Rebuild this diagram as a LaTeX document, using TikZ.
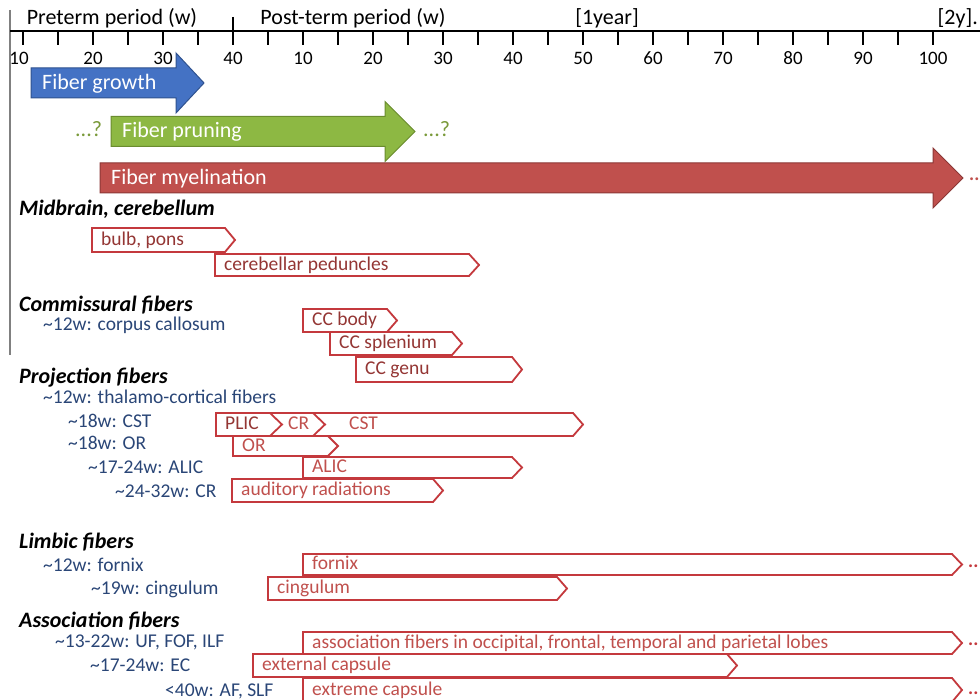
\documentclass[tikz,border=0pt]{standalone}
\usepackage{fontspec}
\setmainfont{Carlito}
\usetikzlibrary{calc}
\definecolor{growthfill}{HTML}{4472C4}
\definecolor{growthedge}{HTML}{2F528F}
\definecolor{pruningfill}{HTML}{8DB843}
\definecolor{pruningedge}{HTML}{6A8C2F}
\definecolor{myelinfill}{HTML}{C0504D}
\definecolor{myelinedge}{HTML}{8C3836}
\definecolor{tractline}{HTML}{C4393D}
\definecolor{tractdark}{HTML}{943634}
\definecolor{tractred}{HTML}{C0504D}
\definecolor{onsetblue}{HTML}{2A4677}
\definecolor{queryolive}{HTML}{7A9A3A}

\newcommand{\phasearrow}[7]{%
  \path[phase, fill=#2fill, draw=#2edge] (#3,{#6-15}) -- (#4,{#6-15}) -- (#4,{#6-30}) -- (#5,#6)
    -- (#4,{#6+30}) -- (#4,{#6+15}) -- (#3,{#6+15}) -- cycle;
  \node[phasetext] (#1) at ({#3+11},{#6+4}) {#7};
}
\newcommand{\tract}[7][tractred]{%
  \draw[tractbox] (#3,#5) -- (#4,#5) -- ({#4+10},{(#5+#6)/2}) -- (#4,#6) -- (#3,#6) -- cycle;
  \node[tracttext, text=#1] (#2) at ({#3+9},{(#5+#6)/2+3}) {#7};
}

\begin{document}
\begin{tikzpicture}[x=1pt,y=-1pt,
    tick/.style={line width=1.6pt},
    axisnum/.style={font=\fontsize{19}{22}\selectfont},
    axistitle/.style={font=\fontsize{22}{26}\selectfont},
    phase/.style={line width=1pt},
    phasetext/.style={anchor=mid west,text=white,inner sep=0pt,font=\fontsize{22}{26}\selectfont},
    tractbox/.style={draw=tractline,line width=1.8pt,line join=miter},
    tracttext/.style={anchor=mid west,inner sep=0pt,font=\fontsize{19.5}{23}\selectfont},
    group/.style={anchor=mid west,inner sep=0pt,font=\fontsize{22}{26}\selectfont\bfseries\itshape},
    onset/.style={anchor=mid west,inner sep=0pt,text=onsetblue,font=\fontsize{19.5}{23}\selectfont},
    query/.style={anchor=mid west,inner sep=0pt,text=queryolive,font=\fontsize{22}{26}\selectfont},
    more/.style={anchor=mid west,inner sep=0pt,font=\fontsize{19}{22}\selectfont\bfseries}]
  \useasboundingbox (0,0) rectangle (980,700);
  \fill[white] (0,0) rectangle (980,700);
  \clip (0,0) rectangle (980,700);

  \draw[line width=2pt,gray] (10,10) -- (10,355);
  \draw[line width=2pt] (10,31) -- (980,31);
  \foreach \w in {10,15,...,35}
    \draw[tick] ({7*\w-47},31) -- ++(0,14);
  \draw[tick] (233,17) -- (233,45);
  \foreach \w in {5,10,...,100}
    \draw[tick] ({233+7*\w},31) -- ++(0,14);
  \node[axisnum] (pre10) at (19,58) {10};
  \foreach \w in {20,30,40}
    \node[axisnum] (pre\w) at ({7*\w-47},58) {\w};
  \foreach \w in {10,20,...,100}
    \node[axisnum] (post\w) at ({233+7*\w},58) {\w};
  \node[axistitle] (preterm) at (112,18) {Preterm period (w)};
  \node[axistitle] (postterm) at (353,18) {Post-term period (w)};
  \node[axistitle] (oneyear) at (607,18) {[1year]};
  \node[axistitle, anchor=east, inner sep=0pt] (twoyear) at (978,18) {[2y].};

  \phasearrow{growth}{growth}{31}{176}{204}{83}{Fiber growth}
  \phasearrow{pruning}{pruning}{111}{385}{415}{131.5}{Fiber pruning}
  \phasearrow{myelin}{myelin}{100}{933}{963}{178}{Fiber myelination}
  \node[query] (qleft) at (75,134) {...?};
  \node[query] (qright) at (423,134) {...?};
  \node[more, text=myelinfill] (myelinmore) at (969,178) {..};

  \node[group] (midbrain) at (19,213) {Midbrain, cerebellum};
  \tract[tractdark]{bulb}{92}{225}{228}{252}{bulb, pons}
  \tract[tractdark]{peduncle}{215}{469}{254}{276}{cerebellar peduncles}

  \node[group] (commissural) at (19,309) {Commissural fibers};
  \node[onset] (ccon) at (43,328) {\textasciitilde12w: corpus callosum};
  \tract[tractdark]{ccbody}{303}{387}{309}{332}{CC body}
  \tract[tractdark]{ccsplen}{330}{452}{332}{355}{CC splenium}
  \tract[tractdark]{ccgenu}{356}{512}{357}{382}{CC genu}

  \node[group] (projection) at (19,381) {Projection fibers};
  \node[onset] (thalon) at (43,401) {\textasciitilde12w: thalamo-cortical fibers};
  \node[onset] (cston) at (68,425) {\textasciitilde18w: CST};
  \node[onset] (oron) at (68,447) {\textasciitilde18w: OR};
  \node[onset] (alicon) at (88,471) {\textasciitilde17-24w: ALIC};
  \node[onset] (cron) at (115,495) {\textasciitilde24-32w: CR};
  \tract[tractdark]{plic}{216}{573}{413}{436}{PLIC}
  \draw[tractbox] (270,413) -- (282,424.5) -- (270,436);
  \draw[tractbox] (313,413) -- (325,424.5) -- (313,436);
  \node[tracttext, text=tractred] (cr) at (288,427.5) {CR};
  \node[tracttext, text=tractred] (cst) at (349,427.5) {CST};
  \tract{or}{233}{328}{436}{456}{OR}
  \tract{alic}{303}{512}{457}{478}{ALIC}
  \tract{auditory}{232}{433}{479}{502}{auditory radiations}

  \node[group] (limbic) at (19,546) {Limbic fibers};
  \node[onset] (fornon) at (43,569) {\textasciitilde12w: fornix};
  \node[onset] (cingon) at (91,592) {\textasciitilde19w: cingulum};
  \tract{fornix}{303}{952}{554}{575}{fornix}
  \tract{cingulum}{268}{557}{577}{600}{cingulum}
  \node[more, text=tractline] (fornmore) at (968,565) {..};

  \node[group] (association) at (19,625) {Association fibers};
  \node[onset] (ufon) at (55,645) {\textasciitilde13-22w: UF, FOF, ILF};
  \node[onset] (econ) at (90,669) {\textasciitilde17-24w: EC};
  \node[onset] (afon) at (165,694) {<40w: AF, SLF};
  \tract{lobes}{303}{952}{632}{654}{association fibers in occipital, frontal, temporal and parietal lobes}
  \tract{external}{253}{727}{654}{677}{external capsule}
  \tract{extreme}{303}{952}{678}{702}{extreme capsule}
  \node[more, text=tractline] (lobesmore) at (968,643) {..};
  \node[more, text=tractline] (extrememore) at (968,692) {..};
\end{tikzpicture}
\end{document}
